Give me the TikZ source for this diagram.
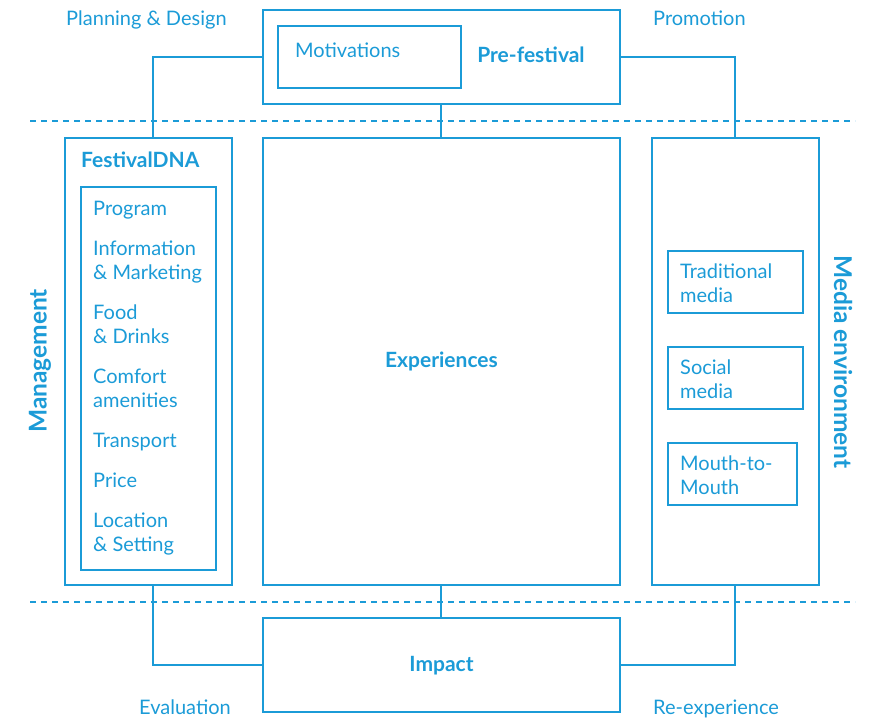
\documentclass[tikz,border=0pt]{standalone}
\usepackage{fontspec}
\setmainfont{Lato}
\definecolor{fb}{HTML}{1B9BD7}
\begin{document}
\begin{tikzpicture}[x=1pt,y=-1pt,
  box/.style={draw=fb,line width=1.7pt,inner sep=0pt},
  lbl/.style={text=fb,font=\fontsize{20}{24}\selectfont,inner sep=0pt,anchor=base west},
  blbl/.style={text=fb,font=\fontsize{21}{24}\selectfont\bfseries,inner sep=0pt,anchor=base},
  rlbl/.style={text=fb,font=\fontsize{24.5}{28}\selectfont\bfseries,inner sep=0pt},
  conn/.style={draw=fb,line width=1.8pt},
  dashline/.style={draw=fb,line width=1.3pt,dash pattern=on 6pt off 5pt}]
\useasboundingbox (0,0) rectangle (871,718);
% boxes
\node[box,minimum width=357pt,minimum height=94pt] (pre) at (441.5,57) {};
\node[box,minimum width=183pt,minimum height=62pt] (mot) at (369.5,57) {};
\node[box,minimum width=167pt,minimum height=447pt] (dna) at (148.5,361.5) {};
\node[box,minimum width=135pt,minimum height=383pt] (dnain) at (148.5,378.5) {};
\node[box,minimum width=357pt,minimum height=447pt] (exp) at (441.5,361.5) {};
\node[box,minimum width=167pt,minimum height=447pt] (media) at (735.5,361.5) {};
\node[box,minimum width=135pt,minimum height=62pt] (trad) at (735.5,282) {};
\node[box,minimum width=135pt,minimum height=62pt] (soc) at (735.5,378) {};
\node[box,minimum width=129pt,minimum height=62pt] (mouth) at (732.5,474) {};
\node[box,minimum width=357pt,minimum height=94pt] (impact) at (441.5,665) {};
% dashed lines
\coordinate (d1a) at (30,121); \coordinate (d1b) at (855,121);
\coordinate (d2a) at (30,602); \coordinate (d2b) at (855,602);
\draw[dashline] (d1a) -- (d1b);
\draw[dashline] (d2a) -- (d2b);
% connectors
\draw[conn] (pre.west) -| ([xshift=4.5pt]dna.north);
\draw[conn] (pre.east) -| ([xshift=-0.5pt]media.north);
\draw[conn] ([xshift=-0.5pt]pre.south) -- ([xshift=-0.5pt]exp.north);
\draw[conn] (impact.west) -| ([xshift=4.5pt]dna.south);
\draw[conn] (impact.east) -| ([xshift=-0.5pt]media.south);
\draw[conn] ([xshift=-0.5pt]impact.north) -- ([xshift=-0.5pt]exp.south);
% texts
\node[lbl] (t1) at (66,25) {Planning \& Design};
\node[lbl] (t2) at (653,25) {Promotion};
\node[lbl] (t3) at (295,57) {Motivations};
\node[blbl] (t4) at (531,62) {Pre-festival};
\node[blbl,anchor=base west] (t5) at (81,167) {FestivalDNA};
\node[lbl] (i1) at (93,215) {Program};
\node[lbl] (i2) at (93,255) {Information};
\node[lbl] (i2b) at (93,279) {\& Marketing};
\node[lbl] (i3) at (93,319) {Food};
\node[lbl] (i3b) at (93,343) {\& Drinks};
\node[lbl] (i4) at (93,383) {Comfort};
\node[lbl] (i4b) at (93,407) {amenities};
\node[lbl] (i5) at (93,447) {Transport};
\node[lbl] (i6) at (93,487) {Price};
\node[lbl] (i7) at (93,527) {Location};
\node[lbl] (i7b) at (93,551) {\& Setting};
\node[rlbl,rotate=90] (man) at (40,361) {Management};
\node[blbl] (expt) at (441.5,367) {Experiences};
\node[lbl] (m1) at (680,278) {Traditional};
\node[lbl] (m1b) at (680,302) {media};
\node[lbl] (m2) at (680,374) {Social};
\node[lbl] (m2b) at (680,398) {media};
\node[lbl] (m3) at (680,470) {Mouth-to-};
\node[lbl] (m3b) at (680,494) {Mouth};
\node[rlbl,rotate=-90] (men) at (843,362) {Media environment};
\node[blbl] (imp) at (441.5,671) {Impact};
\node[lbl] (b1) at (139,714) {Evaluation};
\node[lbl] (b2) at (653,714) {Re-experience};
\end{tikzpicture}
\end{document}
